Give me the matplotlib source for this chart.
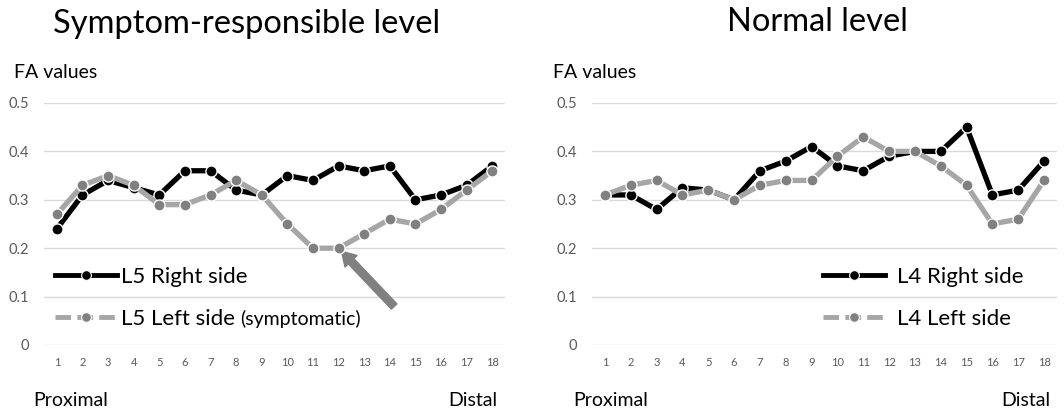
import matplotlib.pyplot as plt
from matplotlib.lines import Line2D
import numpy as np

plt.rcParams['font.family'] = ['Lato', 'DejaVu Sans']

# --- dane ---
segments = list(range(1, 19))
l5_right = [0.24, 0.31, 0.34, 0.325, 0.31, 0.36, 0.36, 0.32, 0.31,
            0.35, 0.34, 0.37, 0.36, 0.37, 0.30, 0.31, 0.33, 0.37]
l5_left = [0.27, 0.33, 0.35, 0.33, 0.29, 0.29, 0.31, 0.34, 0.31,
           0.25, 0.20, 0.20, 0.23, 0.26, 0.25, 0.28, 0.32, 0.36]
l4_right = [0.31, 0.31, 0.28, 0.325, 0.32, 0.30, 0.36, 0.38, 0.41,
            0.37, 0.36, 0.39, 0.40, 0.40, 0.45, 0.31, 0.32, 0.38]
l4_left = [0.31, 0.33, 0.34, 0.31, 0.32, 0.30, 0.33, 0.34, 0.34,
           0.39, 0.43, 0.40, 0.40, 0.37, 0.33, 0.25, 0.26, 0.34]
yticks = [0, 0.1, 0.2, 0.3, 0.4, 0.5]
ytick_labels = ['0', '0.1', '0.2', '0.3', '0.4', '0.5']

BLACK = '#000000'
LGRAY = '#a6a6a6'
MGRAY = '#808080'
GRID = '#d9d9d9'
TXT = '#595959'

fig = plt.figure(figsize=(10.64, 4.17), dpi=100)
ax1 = fig.add_axes([0.0414, 0.1727, 0.4333, 0.5803])
ax2 = fig.add_axes([0.5564, 0.1727, 0.4370, 0.5803])


def draw_panel(ax, right, left):
    ax.plot(segments, right, '-o', color=BLACK, lw=3.8, ms=8,
            mfc=BLACK, mec='white', mew=1.0, zorder=3)
    ax.plot(segments, left, '-o', color=LGRAY, lw=3.8, ms=8,
            mfc=MGRAY, mec='white', mew=1.0, zorder=4)
    ax.set_xlim(0.5, 18.5)
    ax.set_ylim(0, 0.5)
    ax.set_xticks(segments)
    ax.set_xticklabels([str(s) for s in segments], fontsize=8, color=TXT)
    ax.set_yticks(yticks)
    ax.set_yticklabels(ytick_labels, fontsize=10.5, color=TXT)
    ax.tick_params(axis='both', length=0)
    ax.tick_params(axis='y', pad=11)
    ax.tick_params(axis='x', pad=9)
    ax.grid(axis='y', color=GRID, lw=1.0)
    ax.set_axisbelow(True)
    for s in ax.spines.values():
        s.set_visible(False)


draw_panel(ax1, l5_right, l5_left)
draw_panel(ax2, l4_right, l4_left)

# --- legendy ---
h_right = Line2D([], [], color=BLACK, lw=3.5, marker='o', ms=7, mfc=BLACK, mec='white', mew=0.8)
h_left = Line2D([], [], color=LGRAY, lw=3.5, ls=(0, (3.2, 1.3)), marker='o', ms=7,
                mfc=MGRAY, mec='white', mew=0.8)

leg1 = ax1.legend([h_right, h_left], ['L5 Right side', 'L5 Left side'],
                  loc='lower left', bbox_to_anchor=(0.005, 0.03), frameon=False,
                  fontsize=16, handlelength=2.8, handletextpad=0.15,
                  labelspacing=1.0, borderaxespad=0)

ax2.legend([h_right, h_left], ['L4 Right side', 'L4 Left side'],
           loc='lower left', bbox_to_anchor=(0.477, 0.03), frameon=False,
           fontsize=16, handlelength=2.8, handletextpad=0.55,
           labelspacing=1.0, borderaxespad=0)

# --- strzałka na 12 segmencie ---
ax1.annotate('', xy=(12, l5_left[11]), xytext=(40, -42), textcoords='offset points',
             arrowprops=dict(arrowstyle='simple,head_width=1.2,head_length=1.0,tail_width=0.55',
                             color=MGRAY, shrinkA=0, shrinkB=3))

# --- teksty ---
fig.text(0.050, 0.921, 'Symptom-responsible level', fontsize=23.5, ha='left', va='baseline')
fig.text(0.768, 0.926, 'Normal level', fontsize=23.5, ha='center', va='baseline')
fig.text(0.013, 0.813, 'FA values', fontsize=14, ha='left', va='baseline')
fig.text(0.520, 0.813, 'FA values', fontsize=14, ha='left', va='baseline')
fig.text(0.031, 0.04, 'Proximal', fontsize=14, ha='left', va='center')
fig.text(0.467, 0.04, 'Distal', fontsize=14, ha='right', va='center')
fig.text(0.539, 0.04, 'Proximal', fontsize=14, ha='left', va='center')
fig.text(0.987, 0.04, 'Distal', fontsize=14, ha='right', va='center')

# dopisek "(symptomatic)" za etykietą legendy (mniejsza czcionka)
fig.canvas.draw()
bb = leg1.get_texts()[1].get_window_extent().transformed(fig.transFigure.inverted())
fig.text(bb.x1 + 0.005, bb.y0 + 0.003, '(symptomatic)', fontsize=14, ha='left', va='bottom')

fig.savefig('out.png', dpi=100)
